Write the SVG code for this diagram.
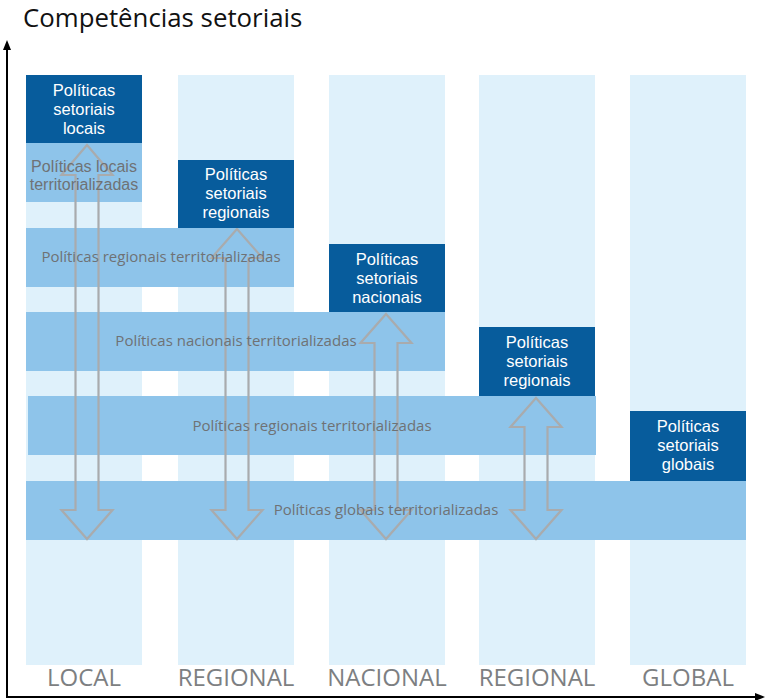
<svg xmlns="http://www.w3.org/2000/svg" width="765" height="700" viewBox="0 0 765 700">
<defs>
<style>
.col{fill:#dff1fb}
.box{fill:#075c9c}
.band{fill:#8ec4ea}
.bt{font-family:"Liberation Sans",Arial,sans-serif;font-size:16.5px;fill:#ffffff;text-anchor:middle}
.tt{font-family:"Open Sans","Noto Sans",sans-serif;font-size:15px;fill:#6f7275;text-anchor:middle}
.tl{font-family:"Liberation Sans",Arial,sans-serif;font-size:16px;fill:#6f7275;text-anchor:middle}
.ax{font-family:"Open Sans","Noto Sans",sans-serif;font-size:24px;fill:#7d7f82;text-anchor:middle}
.arr{fill:none;stroke:#a9abad;stroke-width:2.2;stroke-linejoin:miter}
.axis{stroke:#000;stroke-width:2;fill:none}
</style>
</defs>
<rect width="765" height="700" fill="#ffffff"/>
<text x="23" y="27" font-family="'Open Sans','Noto Sans',sans-serif" font-size="25.8" fill="#111">Competências setoriais</text>
<g id="axes">
<line class="axis" x1="7" y1="697" x2="7" y2="48"/>
<polygon points="7,40 3,50 11,50" fill="#000"/>
<line class="axis" x1="6" y1="697" x2="756" y2="697"/>
<polygon points="765,697 755,693 755,701" fill="#000"/>
</g>
<g id="columns">
<rect class="col" x="26" y="75" width="116" height="590"/>
<rect class="col" x="178" y="75" width="116" height="590"/>
<rect class="col" x="329" y="75" width="116" height="590"/>
<rect class="col" x="479" y="75" width="116" height="590"/>
<rect class="col" x="630" y="75" width="116" height="590"/>
<text class="ax" x="84" y="686">LOCAL</text>
<text class="ax" x="236" y="686">REGIONAL</text>
<text class="ax" x="387" y="686">NACIONAL</text>
<text class="ax" x="537" y="686">REGIONAL</text>
<text class="ax" x="688" y="686">GLOBAL</text>
</g>
<g id="band-locais">
<rect class="band" x="26" y="143" width="116" height="59"/>
</g>
<g id="band-regionais1">
<rect class="band" x="26" y="228" width="268" height="59"/>
</g>
<g id="band-nacionais">
<rect class="band" x="26" y="312" width="419" height="59"/>
</g>
<g id="band-regionais2">
<rect class="band" x="28" y="396" width="568" height="59"/>
</g>
<g id="band-globais">
<rect class="band" x="26" y="481" width="720" height="59"/>
</g>
<g id="connectors">
<path class="arr" d="M87,145 L112.5,175 L98.5,175 L98.5,510 L112.5,510 L87,539 L61.5,510 L75.5,510 L75.5,175 L61.5,175 Z"/>
<path class="arr" d="M237,229 L262.5,258 L248.5,258 L248.5,510 L262.5,510 L237,539 L211.5,510 L225.5,510 L225.5,258 L211.5,258 Z"/>
<path class="arr" d="M386,314 L411.5,343 L397.5,343 L397.5,510 L411.5,510 L386,539 L360.5,510 L374.5,510 L374.5,343 L360.5,343 Z"/>
<path class="arr" d="M536,398 L561.5,427 L547.5,427 L547.5,510 L561.5,510 L536,539 L510.5,510 L524.5,510 L524.5,427 L510.5,427 Z"/>
</g>
<g id="text-bands">
<text class="tl" x="84" y="171.5">Políticas locais<tspan x="84" dy="18.5">territorializadas</tspan></text>
<text class="tt" x="161" y="262">Políticas regionais territorializadas</text>
<text class="tt" x="236" y="346">Políticas nacionais territorializadas</text>
<text class="tt" x="312" y="430.5">Políticas regionais territorializadas</text>
<text class="tt" x="386" y="514.5">Políticas globais territorializadas</text>
</g>
<g id="setoriais-locais">
<rect class="box" x="26" y="75" width="116" height="68"/>
<text class="bt" x="84" y="95.5">Políticas<tspan x="84" dy="19">setoriais</tspan><tspan x="84" dy="19">locais</tspan></text>
</g>
<g id="setoriais-regionais1">
<rect class="box" x="178" y="160" width="116" height="68"/>
<text class="bt" x="236" y="180">Políticas<tspan x="236" dy="19">setoriais</tspan><tspan x="236" dy="19">regionais</tspan></text>
</g>
<g id="setoriais-nacionais">
<rect class="box" x="329" y="244" width="116" height="68"/>
<text class="bt" x="387" y="264.5">Políticas<tspan x="387" dy="19">setoriais</tspan><tspan x="387" dy="19">nacionais</tspan></text>
</g>
<g id="setoriais-regionais2">
<rect class="box" x="479" y="327" width="116" height="69"/>
<text class="bt" x="537" y="348">Políticas<tspan x="537" dy="19">setoriais</tspan><tspan x="537" dy="19">regionais</tspan></text>
</g>
<g id="setoriais-globais">
<rect class="box" x="630" y="411" width="116" height="70"/>
<text class="bt" x="688" y="432">Políticas<tspan x="688" dy="19">setoriais</tspan><tspan x="688" dy="19">globais</tspan></text>
</g>
</svg>
